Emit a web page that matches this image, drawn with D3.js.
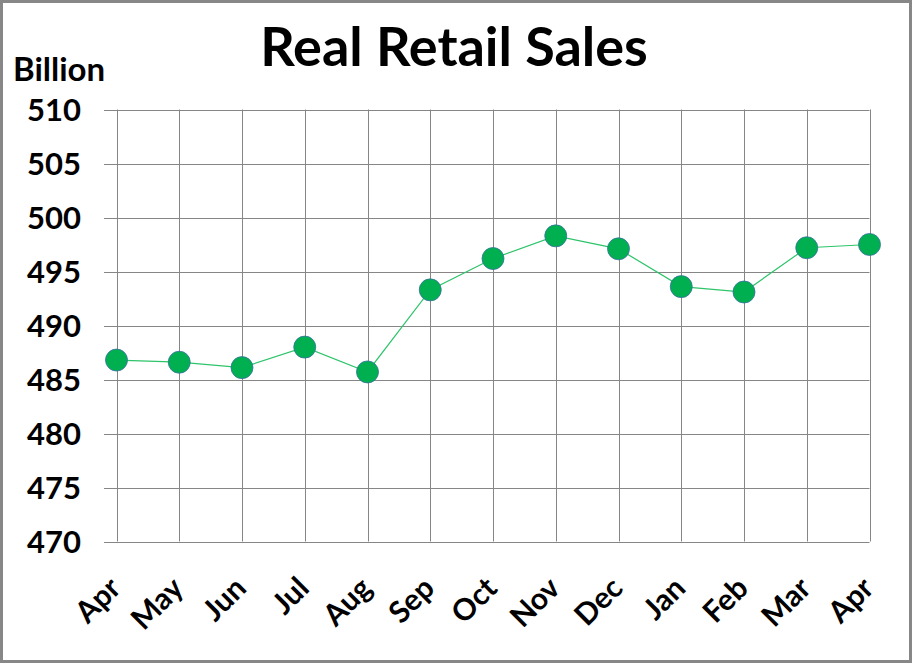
<!DOCTYPE html>
<html>
<head>
<meta charset="utf-8">
<script src="https://cdn.jsdelivr.net/npm/d3@7"></script>
<style>
body { margin: 0; background: #fff; }
text { font-family: Lato, "Open Sans", sans-serif; font-weight: bold; fill: #000; }
</style>
</head>
<body>
<svg id="chart" width="912" height="663"></svg>
<script>
var months = ['Apr','May','Jun','Jul','Aug','Sep','Oct','Nov','Dec','Jan','Feb','Mar','Apr'];
var sales = [486.8, 486.6, 486.1, 488.0, 485.7, 493.3, 496.2, 498.3, 497.1, 493.6, 493.1, 497.2, 497.5];
var yTicks = [470, 475, 480, 485, 490, 495, 500, 505, 510];

var svg = d3.select('#chart');
var width = +svg.attr('width'), height = +svg.attr('height');

// outer frame
svg.append('rect')
	.attr('x', 1.5).attr('y', 1.5)
	.attr('width', width - 3).attr('height', height - 3)
	.attr('fill', '#fff')
	.attr('stroke', '#878787')
	.attr('stroke-width', 3);

var plotLeft = 116.5, plotRight = 869.5, plotTop = 109.5, plotBottom = 541.5;

var x = d3.scalePoint().domain(d3.range(months.length)).range([plotLeft, plotRight]);
var y = d3.scaleLinear().domain([470, 510]).range([plotBottom, plotTop]);

// horizontal grid
svg.append('g').selectAll('line').data(yTicks).enter().append('line')
	.attr('x1', 104).attr('x2', plotRight)
	.attr('y1', d => Math.round(y(d)) + 0.5).attr('y2', d => Math.round(y(d)) + 0.5)
	.attr('stroke', '#868686').attr('stroke-width', 1);

// vertical grid
svg.append('g').selectAll('line').data(d3.range(months.length)).enter().append('line')
	.attr('x1', d => Math.round(x(d)) + 0.5).attr('x2', d => Math.round(x(d)) + 0.5)
	.attr('y1', plotTop).attr('y2', plotBottom)
	.attr('stroke', '#868686').attr('stroke-width', 1);

// y labels
svg.append('g').selectAll('text').data(yTicks).enter().append('text')
	.attr('x', 81).attr('y', d => y(d))
	.attr('dy', '0.36em')
	.attr('text-anchor', 'end')
	.style('font-size', '31px')
	.text(d => d);

// x labels
svg.append('g').selectAll('text').data(months).enter().append('text')
	.attr('transform', (d, i) => 'translate(' + (x(i) + 6) + ',' + 590 + ') rotate(-45)')
	.attr('text-anchor', 'end')
	.style('font-size', '30px')
	.text(d => d);

// title
svg.append('text')
	.attr('x', 454).attr('y', 66)
	.attr('text-anchor', 'middle')
	.style('font-size', '54px')
	.text('Real Retail Sales');

svg.append('text')
	.attr('x', 13).attr('y', 81)
	.style('font-size', '33px')
	.text('Billion');

// line
var line = d3.line()
	.x((d, i) => x(i))
	.y(d => y(d));

svg.append('path').datum(sales)
	.attr('d', line)
	.attr('fill', 'none')
	.attr('stroke', '#2ec46a')
	.attr('stroke-width', 1.2);

svg.append('g').selectAll('circle').data(sales).enter().append('circle')
	.attr('cx', (d, i) => x(i))
	.attr('cy', d => y(d))
	.attr('r', 11)
	.attr('fill', '#00b050')
	.attr('stroke', '#3a6fa0')
	.attr('stroke-width', 0.8);
</script>
</body>
</html>
